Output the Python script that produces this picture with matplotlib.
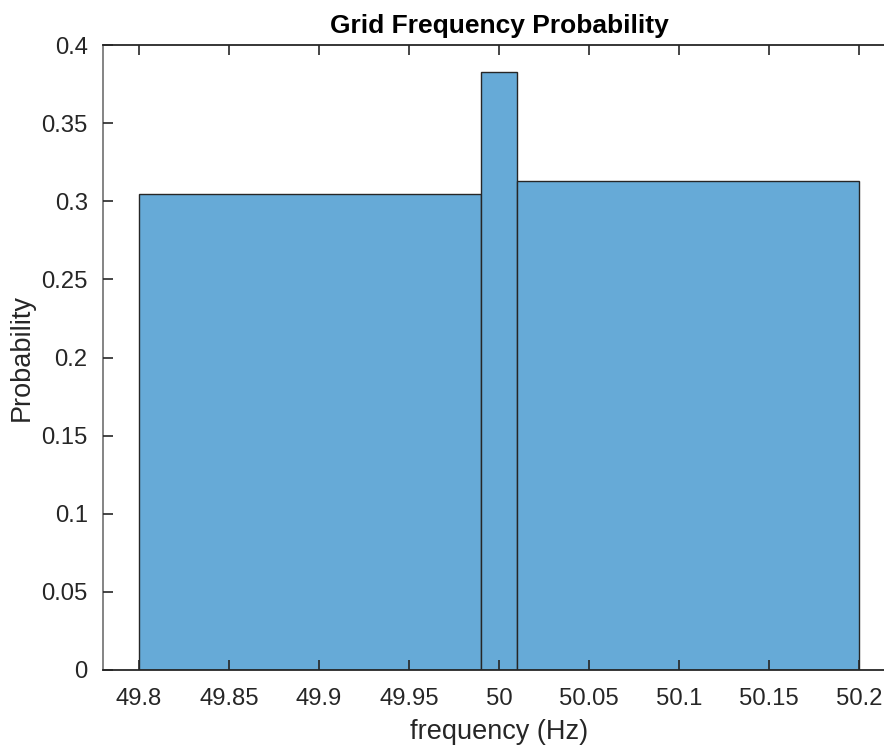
import numpy as np
import matplotlib.pyplot as plt

# histogram bin edges (Hz) and normalized probabilities
bin_edges = [49.8, 49.99, 50.01, 50.2]
probability = [0.3046, 0.3825, 0.3129]

x_ticks = [49.8, 49.85, 49.9, 49.95, 50.0, 50.05, 50.1, 50.15, 50.2]
x_tick_labels = ["49.8", "49.85", "49.9", "49.95", "50", "50.05", "50.1", "50.15", "50.2"]
y_ticks = [0, 0.05, 0.1, 0.15, 0.2, 0.25, 0.3, 0.35, 0.4]
y_tick_labels = ["0", "0.05", "0.1", "0.15", "0.2", "0.25", "0.3", "0.35", "0.4"]

plt.rcParams["font.family"] = ["Liberation Sans", "DejaVu Sans"]
plt.rcParams["xtick.direction"] = "in"
plt.rcParams["ytick.direction"] = "in"

W, H = 884, 747
fig = plt.figure(figsize=(W / 100, H / 100), dpi=100)
# axes box runs past the right edge of the figure (cropped like the reference)
left, top, bottom, right = 103, 45, 670, 895
ax = fig.add_axes([left / W, 1 - bottom / H, (right - left) / W, (bottom - top) / H])

edges = np.array(bin_edges)
ax.bar(edges[:-1], probability, width=np.diff(edges), align="edge",
       color="#66aad7", edgecolor="#262626", linewidth=1.0, zorder=1)

ax.set_xlim(49.78, 50.22)
ax.set_ylim(0, 0.4)
ax.set_xticks(x_ticks)
ax.set_xticklabels(x_tick_labels)
ax.set_yticks(y_ticks)
ax.set_yticklabels(y_tick_labels)

dark = "#262626"
ax.tick_params(axis="both", direction="in", length=7, width=1.2, colors=dark,
               labelsize=17.2)
ax.tick_params(axis="x", top=True, bottom=True, pad=13)
ax.tick_params(axis="y", left=True, right=False, pad=11)
for side in ["top", "bottom"]:
    ax.spines[side].set_color(dark)
    ax.spines[side].set_linewidth(1.3)
ax.spines["left"].set_color("#707070")
ax.spines["left"].set_linewidth(1.2)
ax.spines["right"].set_visible(False)
ax.set_axisbelow(False)

ax.set_xlabel("frequency (Hz)", fontsize=19.5, color=dark, labelpad=6.5)
ax.set_ylabel("Probability", fontsize=19.5, color=dark, labelpad=5)
ax.set_title("Grid Frequency Probability", fontsize=19, fontweight="bold",
             color="black", pad=9)

fig.savefig("out.png", dpi=100)
